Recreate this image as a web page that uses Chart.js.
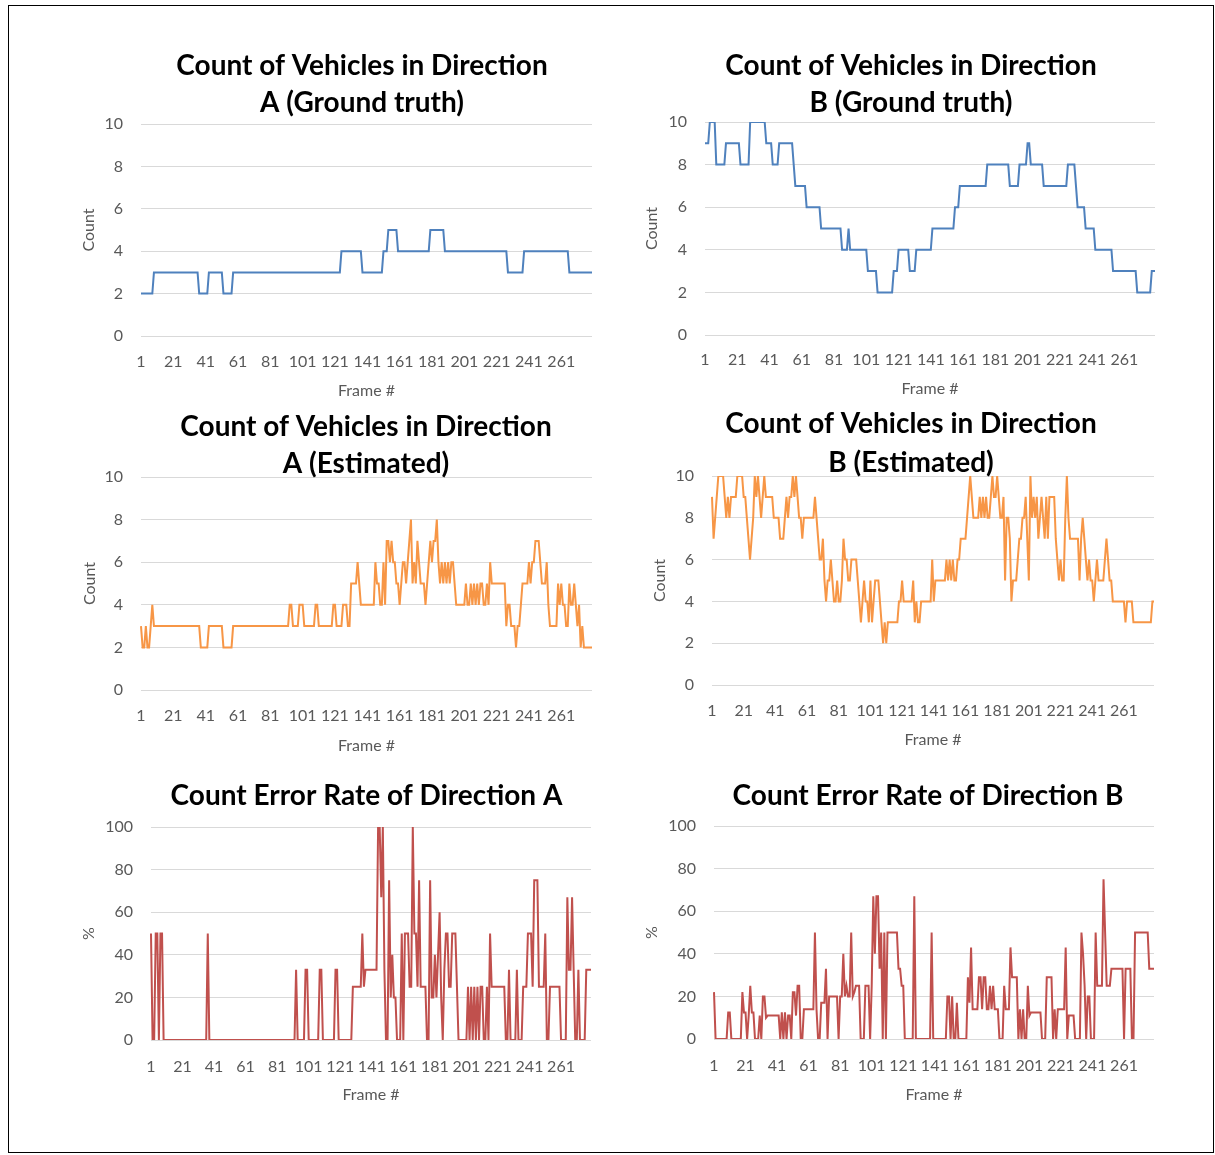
<!DOCTYPE html>
<html>
<head>
<meta charset="utf-8">
<script src="https://cdn.jsdelivr.net/npm/chart.js@4.4.1/dist/chart.umd.min.js"></script>
<style>
    html, body { margin: 0; padding: 0; background: #fff; overflow: hidden; }
    body { width: 1215px; height: 1155px; position: relative; }
    .frame { position: absolute; left: 8px; top: 5px; width: 1206px; height: 1148px; border: 1px solid #000; box-sizing: border-box; }
    canvas { position: absolute; }
</style>
</head>
<body>
<div class="frame"></div>
<canvas id="truthA"></canvas>
<canvas id="truthB"></canvas>
<canvas id="estA"></canvas>
<canvas id="estB"></canvas>
<canvas id="errA"></canvas>
<canvas id="errB"></canvas>
<script>
// frame numbers on the category axis, labels shown every 20 frames
const FRAMES = Array.from({ length: 280 }, (_, i) => i + 1);
const TICK_LABELS = [1, 21, 41, 61, 81, 101, 121, 141, 161, 181, 201, 221, 241, 261];
const COUNT_TICKS = [0, 2, 4, 6, 8, 10];
const RATE_TICKS = [0, 20, 40, 60, 80, 100];

// vehicle counts, direction A, ground truth (frames 1..280, 20 per row)
const truthA = [
    2,2,2,2,2,2,2,2,3,3,3,3,3,3,3,3,3,3,3,3,
    3,3,3,3,3,3,3,3,3,3,3,3,3,3,3,3,2,2,2,2,
    2,2,3,3,3,3,3,3,3,3,3,2,2,2,2,2,2,3,3,3,
    3,3,3,3,3,3,3,3,3,3,3,3,3,3,3,3,3,3,3,3,
    3,3,3,3,3,3,3,3,3,3,3,3,3,3,3,3,3,3,3,3,
    3,3,3,3,3,3,3,3,3,3,3,3,3,3,3,3,3,3,3,3,
    3,3,3,3,4,4,4,4,4,4,4,4,4,4,4,4,4,3,3,3,
    3,3,3,3,3,3,3,3,3,3,4,4,4,5,5,5,5,5,5,4,
    4,4,4,4,4,4,4,4,4,4,4,4,4,4,4,4,4,4,4,5,
    5,5,5,5,5,5,5,5,4,4,4,4,4,4,4,4,4,4,4,4,
    4,4,4,4,4,4,4,4,4,4,4,4,4,4,4,4,4,4,4,4,
    4,4,4,4,4,4,4,3,3,3,3,3,3,3,3,3,3,4,4,4,
    4,4,4,4,4,4,4,4,4,4,4,4,4,4,4,4,4,4,4,4,
    4,4,4,4,4,3,3,3,3,3,3,3,3,3,3,3,3,3,3,3
];

// vehicle counts, direction B, ground truth
const truthB = [
    9,9,9,10,10,10,10,8,8,8,8,8,8,9,9,9,9,9,9,9,
    9,9,8,8,8,8,8,8,10,10,10,10,10,10,10,10,10,10,9,9,
    9,9,8,8,8,8,9,9,9,9,9,9,9,9,9,8,7,7,7,7,
    7,7,7,6,6,6,6,6,6,6,6,6,5,5,5,5,5,5,5,5,
    5,5,5,5,5,4,4,4,4,5,4,4,4,4,4,4,4,4,4,4,
    4,3,3,3,3,3,3,2,2,2,2,2,2,2,2,2,2,3,3,3,
    4,4,4,4,4,4,4,3,3,3,3,4,4,4,4,4,4,4,4,4,
    4,5,5,5,5,5,5,5,5,5,5,5,5,5,5,6,6,6,7,7,
    7,7,7,7,7,7,7,7,7,7,7,7,7,7,7,8,8,8,8,8,
    8,8,8,8,8,8,8,8,8,7,7,7,7,7,7,8,8,8,8,8,
    9,9,8,8,8,8,8,8,8,8,7,7,7,7,7,7,7,7,7,7,
    7,7,7,7,7,8,8,8,8,8,7,6,6,6,6,6,5,5,5,5,
    5,5,4,4,4,4,4,4,4,4,4,4,4,3,3,3,3,3,3,3,
    3,3,3,3,3,3,3,3,2,2,2,2,2,2,2,2,2,3,3,3
];

// vehicle counts, direction A, estimated
const estA = [
    3,2,2,3,2,2,3,4,3,3,3,3,3,3,3,3,3,3,3,3,
    3,3,3,3,3,3,3,3,3,3,3,3,3,3,3,3,3,2,2,2,
    2,2,3,3,3,3,3,3,3,3,3,2,2,2,2,2,2,3,3,3,
    3,3,3,3,3,3,3,3,3,3,3,3,3,3,3,3,3,3,3,3,
    3,3,3,3,3,3,3,3,3,3,3,3,4,4,3,3,3,3,4,4,
    4,3,3,3,3,3,3,3,4,4,3,3,3,3,3,3,3,3,3,4,
    4,3,3,3,3,4,4,4,3,3,5,5,5,5,6,5,4,4,4,4,
    4,4,4,4,4,6,5,5,4,4,6,4,7,7,6,7,6,6,5,5,
    4,5,6,6,5,6,7,8,5,6,5,7,6,5,5,5,4,5,6,7,
    6,7,7,8,6,5,6,5,6,5,6,5,6,6,5,4,4,4,4,4,
    4,5,4,4,5,4,5,4,5,4,5,5,4,4,5,4,6,5,5,5,
    5,5,5,5,5,5,3,4,4,3,3,3,2,3,3,4,5,5,5,5,
    6,5,6,6,7,7,7,6,5,5,5,6,4,3,3,3,3,3,5,4,
    5,4,4,3,3,5,4,4,5,4,3,4,2,3,2,2,2,2,2,2
];

// vehicle counts, direction B, estimated
const estB = [
    9,7,8,9,10,10,10,10,9,8,9,8,9,9,9,9,10,10,10,10,
    9,9,8,7,6,7,8,10,9,10,9,8,9,10,9,9,9,9,9,8,
    8,8,8,7,7,7,8,9,8,9,9,10,9,10,9,8,8,7,8,8,
    8,8,8,8,8,9,8,7,6,6,7,5,4,5,5,6,5,4,4,5,
    4,4,5,7,6,6,5,5,6,6,6,6,5,4,3,4,5,4,4,3,
    5,3,4,5,5,5,4,3,2,3,2,3,3,3,3,3,3,3,4,4,
    5,4,4,4,4,4,4,5,3,4,3,3,4,4,4,4,4,4,4,6,
    4,5,5,5,5,5,5,5,6,5,6,5,6,5,5,6,6,7,7,7,
    7,8,9,10,9,8,8,8,8,9,8,9,8,9,8,8,9,10,9,9,
    10,9,8,8,9,5,8,8,7,4,5,5,5,6,7,7,8,8,9,7,
    5,10,8,9,8,9,7,8,9,8,7,9,7,9,9,9,9,7,6,5,
    6,5,5,8,10,8,7,7,7,7,7,7,5,7,8,7,6,5,6,5,
    5,4,5,6,5,5,5,5,6,7,6,5,5,4,4,4,4,4,4,4,
    4,3,4,4,4,4,3,3,3,3,3,3,3,3,3,3,3,3,4,4
];

// count error rate (%), direction A
const errA = [
    50,0,0,50,50,0,50,50,0,0,0,0,0,0,0,0,0,0,0,0,
    0,0,0,0,0,0,0,0,0,0,0,0,0,0,0,0,50,0,0,0,
    0,0,0,0,0,0,0,0,0,0,0,0,0,0,0,0,0,0,0,0,
    0,0,0,0,0,0,0,0,0,0,0,0,0,0,0,0,0,0,0,0,
    0,0,0,0,0,0,0,0,0,0,0,0,33,0,0,0,0,0,33,33,
    0,0,0,0,0,0,0,33,33,0,0,0,0,0,0,0,0,33,33,0,
    0,0,0,0,0,0,0,0,25,25,25,25,25,25,50,25,33,33,33,33,
    33,33,33,33,100,100,67,100,33,0,0,75,20,40,20,20,0,0,0,50,
    0,50,50,50,25,25,100,50,50,25,75,25,25,25,25,0,0,75,20,20,
    40,20,40,60,20,0,33,50,50,25,25,50,50,50,25,0,0,0,0,0,
    0,25,0,25,0,25,0,25,0,25,25,0,0,25,0,50,25,25,25,25,
    25,25,25,25,25,0,0,33,0,0,0,0,33,0,0,0,25,25,25,50,
    50,50,25,75,75,75,25,25,25,25,50,0,0,25,25,25,25,25,25,25,
    0,0,0,0,67,33,33,67,33,0,0,33,0,0,0,0,33,33,33,33
];

// count error rate (%), direction B
const errB = [
    22,0,0,0,0,0,0,0,0,12.5,12.5,0,0,0,0,0,0,0,22,12.5,
    12.5,0,11,25,12.5,12.5,0,0,0,11,0,20,20,10,11,11,11,11,11,11,
    11,11,0,12.5,0,12.5,0,11,11,0,22,22,11,25,25,0,0,14,14,14,
    14,14,14,14,50,14,0,0,17,17,17,33,0,20,20,20,20,20,20,0,
    20,20,40,20,25,20,20,50,20,22,25,25,25,0,0,0,25,25,25,0,
    25,67,40,67,67,33,50,0,50,0,50,50,50,50,50,50,50,33,33,25,
    25,0,0,0,0,0,0,67,0,0,0,0,0,0,0,0,0,0,50,0,
    0,0,0,0,0,0,0,0,20,20,0,20,0,0,17,0,0,0,0,0,
    0,29,17,43,14,14,14,14,29,29,14,29,29,14,14,25,14,25,14,14,
    14,0,0,0,25,14,14,14,43,29,29,29,29,0,14,0,14,0,0,25,
    11,12.5,12.5,12.5,12.5,12.5,12.5,12.5,0,0,0,29,29,29,29,0,14,0,14,14,
    14,14,14,43,0,11,11,11,11,0,0,0,0,50,40,25,0,20,20,0,
    0,0,50,25,25,25,25,75,50,25,25,25,33,33,33,33,33,33,33,33,
    0,33,33,33,33,0,0,50,50,50,50,50,50,50,50,50,33,33,33,33
];

const BLUE = '#4f81bd';
const ORANGE = '#f79646';
const RED = '#c0504d';
const GRID = '#d9d9d9';
const TEXT = '#595959';
const FONT = 'Lato';

function drawPanel(id, p) {
    const canvas = document.getElementById(id);
    const [left, top, width, height] = p.box;
    canvas.width = width;
    canvas.height = height;
    canvas.style.left = left + 'px';
    canvas.style.top = top + 'px';
    canvas.style.width = width + 'px';
    canvas.style.height = height + 'px';

    const ticks = p.yTicks;
    new Chart(canvas, {
        type: 'line',
        data: {
            labels: FRAMES,
            datasets: [{
                data: p.values,
                borderColor: p.color,
                borderWidth: 2,
                pointRadius: 0,
                tension: 0,
                fill: false
            }]
        },
        options: {
            responsive: false,
            animation: false,
            devicePixelRatio: 1,
            layout: { padding: 0 },
            plugins: {
                legend: { display: false },
                tooltip: { enabled: false },
                title: {
                    display: true,
                    text: p.title,
                    color: '#000',
                    font: { family: FONT, weight: 'bold', size: 28, lineHeight: p.titleLine + 'px' },
                    padding: { top: p.titlePad[0], bottom: p.titlePad[1] }
                }
            },
            scales: {
                x: {
                    type: 'category',
                    grid: { display: false, drawTicks: false },
                    border: { display: false },
                    ticks: {
                        autoSkip: false,
                        maxRotation: 0,
                        padding: p.xTickPad,
                        color: TEXT,
                        font: { family: FONT, size: 16 },
                        callback: (val, i) => TICK_LABELS.includes(FRAMES[i]) ? String(FRAMES[i]) : null
                    },
                    title: {
                        display: true,
                        text: 'Frame #',
                        color: TEXT,
                        font: { family: FONT, size: 16 },
                        padding: { top: 0, bottom: p.xTitlePad }
                    },
                    afterFit: s => { s.height = p.xHeight; }
                },
                y: {
                    type: 'linear',
                    position: 'left',
                    min: ticks[0],
                    max: ticks[ticks.length - 1],
                    grid: { color: GRID, lineWidth: 1, drawTicks: false },
                    border: { display: false },
                    ticks: {
                        padding: 18,
                        color: TEXT,
                        font: { family: FONT, size: 16 }
                    },
                    afterBuildTicks: s => { s.ticks = ticks.map(v => ({ value: v })); },
                    title: {
                        display: true,
                        text: p.yTitle,
                        color: TEXT,
                        font: { family: FONT, size: 16 },
                        padding: { top: p.yTitlePad, bottom: 0 }
                    },
                    afterFit: s => { s.width = p.yWidth; }
                },
                pad: {
                    type: 'linear',
                    position: 'right',
                    grid: { display: false },
                    border: { display: false },
                    ticks: { display: false },
                    afterFit: s => { s.width = p.rightWidth; }
                }
            }
        }
    });
}

drawPanel('truthA', {
    box: [55, 30, 614, 380],
    title: ['Count of Vehicles in Direction', 'A (Ground truth)'],
    titleLine: 37, titlePad: [17.5, 2.5],
    yWidth: 86, rightWidth: 77, xHeight: 74,
    yTitle: 'Count', yTitlePad: 24, xTitlePad: 10, xTickPad: 16,
    yTicks: COUNT_TICKS, values: truthA, color: BLUE
});

drawPanel('truthB', {
    box: [615, 30, 592, 380],
    title: ['Count of Vehicles in Direction', 'B (Ground truth)'],
    titleLine: 37, titlePad: [17.5, 0.5],
    yWidth: 90, rightWidth: 52, xHeight: 75,
    yTitle: 'Count', yTitlePad: 27, xTitlePad: 12, xTickPad: 15,
    yTicks: COUNT_TICKS, values: truthB, color: BLUE
});

drawPanel('estA', {
    box: [55, 390, 622, 380],
    title: ['Count of Vehicles in Direction', 'A (Estimated)'],
    titleLine: 37, titlePad: [18.5, -5.5],
    yWidth: 86, rightWidth: 85, xHeight: 80,
    yTitle: 'Count', yTitlePad: 25, xTitlePad: 15, xTickPad: 16,
    yTicks: COUNT_TICKS, values: estA, color: ORANGE
});

drawPanel('estB', {
    box: [620, 390, 582, 380],
    title: ['Count of Vehicles in Direction', 'B (Estimated)'],
    titleLine: 39, titlePad: [14.5, -6.5],
    yWidth: 92, rightWidth: 48, xHeight: 85,
    yTitle: 'Count', yTitlePad: 30, xTitlePad: 21, xTickPad: 16,
    yTicks: COUNT_TICKS, values: estB, color: ORANGE
});

drawPanel('errA', {
    box: [55, 760, 623, 360],
    title: 'Count Error Rate of Direction A',
    titleLine: 37, titlePad: [17.5, 12.5],
    yWidth: 96, rightWidth: 87, xHeight: 80,
    yTitle: '%', yTitlePad: 24, xTitlePad: 16, xTickPad: 17,
    yTicks: RATE_TICKS, values: errA, color: RED
});

drawPanel('errB', {
    box: [640, 760, 576, 360],
    title: 'Count Error Rate of Direction B',
    titleLine: 37, titlePad: [17.5, 11.5],
    yWidth: 74, rightWidth: 62, xHeight: 81,
    yTitle: '%', yTitlePad: 2, xTitlePad: 16, xTickPad: 17,
    yTicks: RATE_TICKS, values: errB, color: RED
});
</script>
</body>
</html>
